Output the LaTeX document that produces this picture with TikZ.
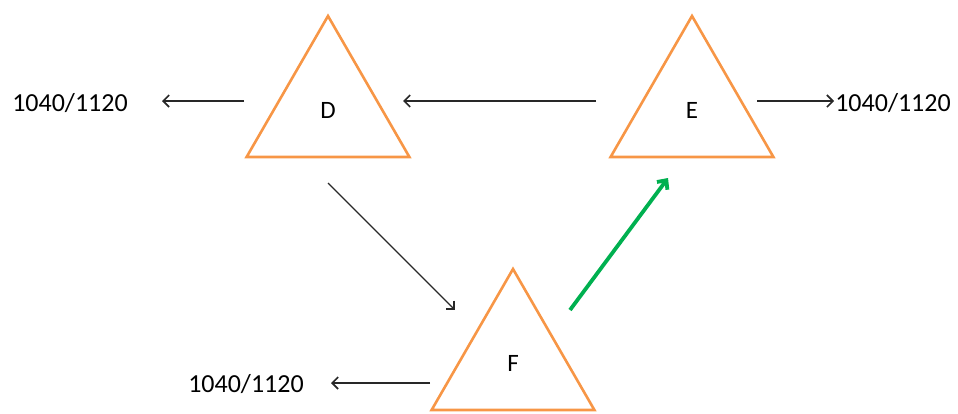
\documentclass[tikz,border=0pt]{standalone}
\usepackage{fontspec}
\setmainfont{Carlito}
\usetikzlibrary{shapes.geometric,arrows.meta}
\definecolor{triorange}{RGB}{247,150,70}
\definecolor{arrgreen}{RGB}{0,176,80}
\definecolor{arrblack}{RGB}{40,40,40}
\tikzset{
  tri/.style={regular polygon, regular polygon sides=3, minimum size=188pt, inner sep=0pt,
    draw=triorange, line width=2.6pt, font=\fontsize{25}{30}\selectfont},
  lbl/.style={font=\fontsize{26}{30}\selectfont, inner sep=0pt},
  thin arrow/.style={draw=arrblack, line width=1.3pt, -{Straight Barb[length=6pt,width=12pt,line width=1.6pt]}},
  green arrow/.style={draw=arrgreen, line width=3.8pt, -{Straight Barb[length=7pt,width=13pt]}}
}
\begin{document}
\begin{tikzpicture}[x=1pt,y=-1pt]
\useasboundingbox (0,0) rectangle (958,413);
\node[tri] (D) at (328,110) {D};
\node[tri] (E) at (692,110) {E};
\node[tri] (F) at (513,363) {F};
\node[lbl] (LD) at (70,103) {1040/1120};
\node[lbl] (LE) at (893,103) {1040/1120};
\node[lbl] (LF) at (246,384) {1040/1120};
\coordinate (d1) at (244,101);
\coordinate (d2) at (162,101);
\coordinate (e1) at (596,101);
\coordinate (e2) at (403,101);
\coordinate (e3) at (757,101);
\coordinate (e4) at (834,101);
\coordinate (f1) at (430,383);
\coordinate (f2) at (331,383);
\coordinate (g1) at (328,183);
\coordinate (g2) at (455,310);
\coordinate (h1) at (570,310);
\coordinate (h2) at (668,178);
\draw[thin arrow] (d1) -- (d2);
\draw[thin arrow] (e1) -- (e2);
\draw[thin arrow] (e3) -- (e4);
\draw[thin arrow] (f1) -- (f2);
\draw[thin arrow] (g1) -- (g2);
\draw[green arrow] (h1) -- (h2);
\end{tikzpicture}
\end{document}
